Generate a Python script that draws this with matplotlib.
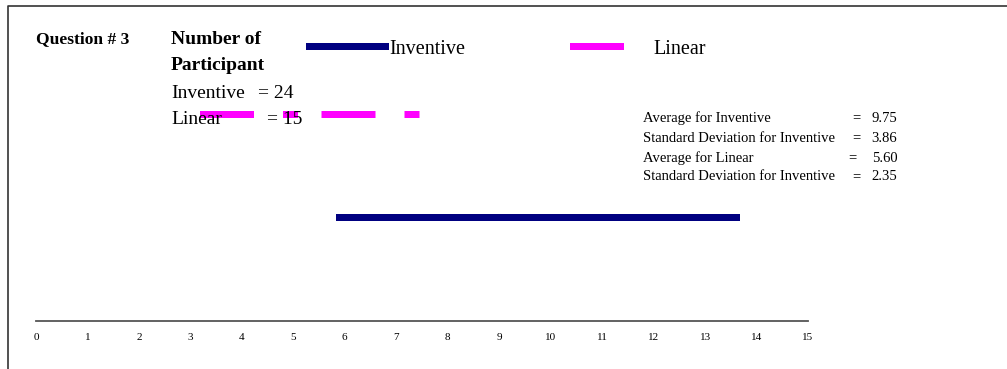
import matplotlib
matplotlib.use("Agg")
import matplotlib.pyplot as plt
from matplotlib.lines import Line2D

# ---------------- data ----------------
groups = ["Inventive", "Linear"]
participants = [24, 15]
averages = [9.75, 5.60]
std_devs = [3.86, 2.35]
ticks = list(range(0, 16))
stat_labels = ["Average for Inventive", "Standard Deviation for Inventive",
               "Average for Linear", "Standard Deviation for Inventive"]
stat_values = [9.75, 3.86, 5.60, 2.35]

# ---------------- style ----------------
plt.rcParams["font.family"] = ["Liberation Serif", "DejaVu Serif"]
plt.rcParams["lines.scale_dashes"] = False
colors = ["#000080", "#FF00FF"]
W, H = 1007, 369
fig = plt.figure(figsize=(W / 100, H / 100), dpi=100)
ax = fig.add_axes([0, 0, 1, 1])
x0_px, x15_px = 36, 808
s = (x15_px - x0_px) / (ticks[-1] - ticks[0])
ax.set_xlim(-x0_px / s, (W - x0_px) / s)
ax.set_ylim(H, 0)
ax.axis("off")

def px(xp):
    return (xp - x0_px) / s

lw = 7 * 72 / 100
pt = 72 / 100
line_y = [217, 113.5]
styles = ["-", (0, (47 * pt, 36 * pt, 8 * pt, 30.5 * pt))]
handles = []
for g, avg, sd, c, yy, ls in zip(groups, averages, std_devs, colors, line_y, styles):
    h, = ax.plot([avg - sd, avg + sd], [yy, yy], color=c, lw=lw, ls=ls,
                 solid_capstyle="projecting", dash_capstyle="projecting",
                 zorder=2, label=g)
    handles.append(h)

# number line
ax.plot([ticks[0], ticks[-1]], [321, 321], color="#555555", lw=1.3, zorder=1)
for t in ticks:
    ax.text(t, 337, str(t), ha="center", va="center", fontsize=8, zorder=3)

# frame
fig.add_artist(Line2D([8 / W, 8 / W, 1], [0, 1 - 6 / H, 1 - 6 / H],
                      transform=fig.transFigure, color="#333333", lw=1.2))

# left text block
ax.text(px(36), 39, "Question # 3", fontsize=12.6, fontweight="bold",
        ha="left", va="center", zorder=3)
ax.text(px(171), 39, "Number of", fontsize=14, fontweight="bold",
        ha="left", va="center", zorder=3)
ax.text(px(171), 66, "Participant", fontsize=14, fontweight="bold",
        ha="left", va="center", zorder=3)
for g, n, yy, xe in zip(groups, participants, [94, 120], [258, 267]):
    ax.text(px(171), yy, g, fontsize=14, ha="left", va="center", zorder=3)
    ax.text(px(xe), yy, f"= {n}", fontsize=14, ha="left", va="center", zorder=3)

# stats block
eq_x = [852, 852, 848, 852]
val_x = [871, 871, 872, 871]
for lab, v, yy, ex, vx in zip(stat_labels, stat_values, [118, 138, 158, 177], eq_x, val_x):
    ax.text(px(643), yy, lab, fontsize=10.5, ha="left", va="center", zorder=3)
    ax.text(px(ex), yy, "=", fontsize=10.5, ha="left", va="center", zorder=3)
    ax.text(px(vx), yy, f"{v:.2f}", fontsize=10.5, ha="left", va="center", zorder=3)

# legend
fs = 14.5
fpx = fs * 100 / 72
leg = fig.legend(handles=handles, ncol=2, frameon=False, fontsize=fs,
                 loc="center left", bbox_to_anchor=(308.5 / W, 1 - 49 / H),
                 borderpad=0, borderaxespad=0, handlelength=76 / fpx,
                 handletextpad=4.5 / fpx, columnspacing=108 / fpx)

fig.savefig("out.png", dpi=100)
